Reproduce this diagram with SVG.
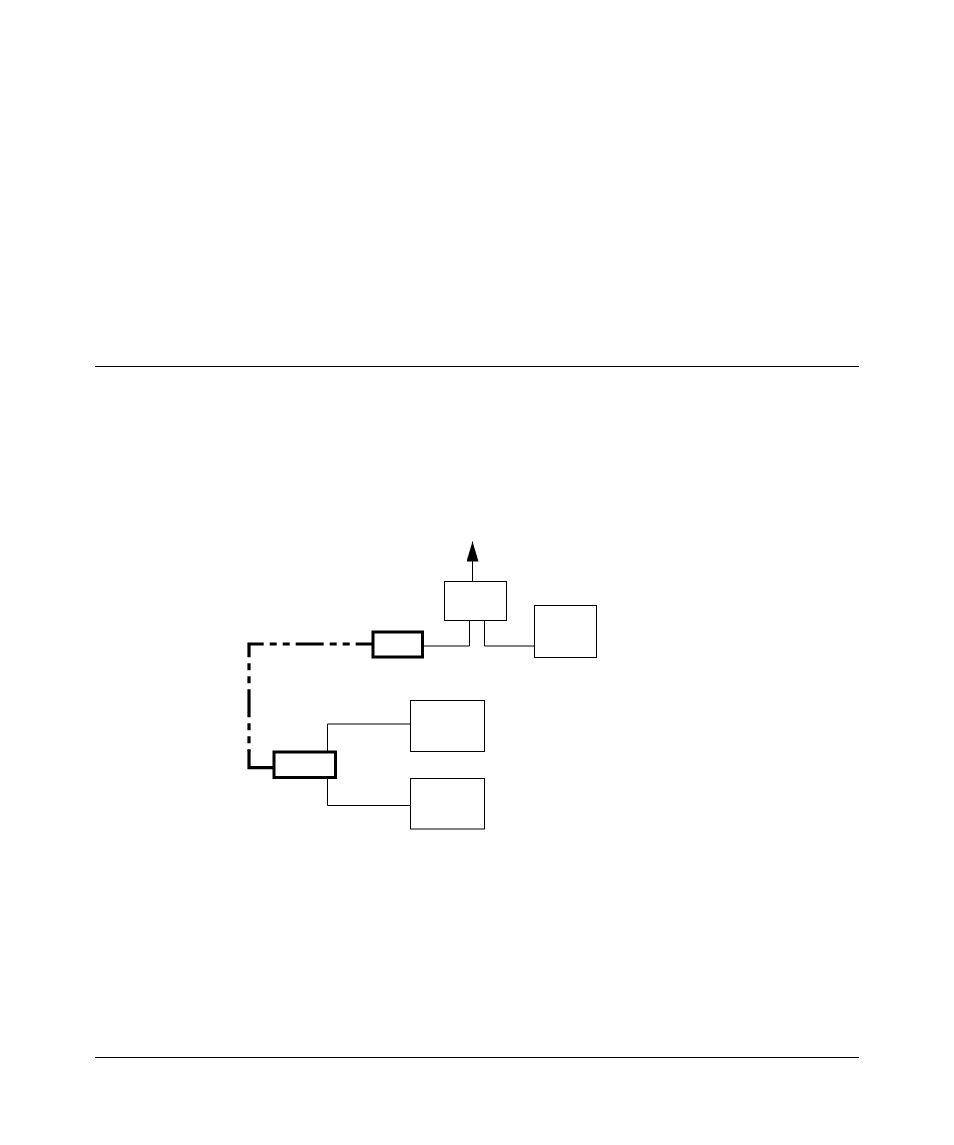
<svg xmlns="http://www.w3.org/2000/svg" width="954" height="1145" viewBox="0 0 954 1145">
<style>
.box{fill:#fff;stroke:#000;stroke-width:1}
.thick{fill:#fff;stroke:#000;stroke-width:3}
.thin{fill:none;stroke:#000;stroke-width:1}
.heavy{fill:none;stroke:#000;stroke-width:3.2}
.rule{stroke:#000;stroke-width:1}
</style>
<defs>
<marker id="arrow" markerUnits="userSpaceOnUse" markerWidth="20" markerHeight="12" refX="20" refY="6" orient="auto" viewBox="0 0 20 12">
<path d="M0,0 L20,6 L0,12 Z" fill="#000"/>
</marker>
</defs>
<rect width="954" height="1145" fill="#fff"/>
<line class="rule" x1="95" y1="366.5" x2="859" y2="366.5"/>
<line class="rule" x1="95" y1="1057.5" x2="859" y2="1057.5"/>
<g id="connectors">
<line class="thin" x1="472.5" y1="581" x2="472.5" y2="541.5" marker-end="url(#arrow)"/>
<polyline class="thin" points="422.7,646 469.5,646 469.5,620.3"/>
<polyline class="thin" points="484.5,620.3 484.5,646 534.3,646"/>
<path class="heavy" d="M372.7,644 H249 V751" stroke-dasharray="28 6 7 6 7 6" stroke-dashoffset="11"/>
<polyline class="heavy" points="249,750 249,767.7 273.3,767.7"/>
<polyline class="thin" points="327.5,751 327.5,724 410.3,724"/>
<polyline class="thin" points="327.5,778.7 327.5,805.5 410.3,805.5"/>
</g>
<g id="node-top"><rect class="box" x="444.5" y="581.5" width="62" height="39"/></g>
<g id="node-right"><rect class="box" x="534.5" y="605.5" width="62" height="52"/></g>
<g id="node-link1"><rect class="thick" x="373" y="632" width="49.5" height="25"/></g>
<g id="node-link2"><rect class="thick" x="274" y="752" width="61.5" height="25.5"/></g>
<g id="node-upper"><rect class="box" x="410.5" y="700.5" width="74" height="51"/></g>
<g id="node-lower"><rect class="box" x="410.5" y="778.5" width="74" height="50.5"/></g>
</svg>
